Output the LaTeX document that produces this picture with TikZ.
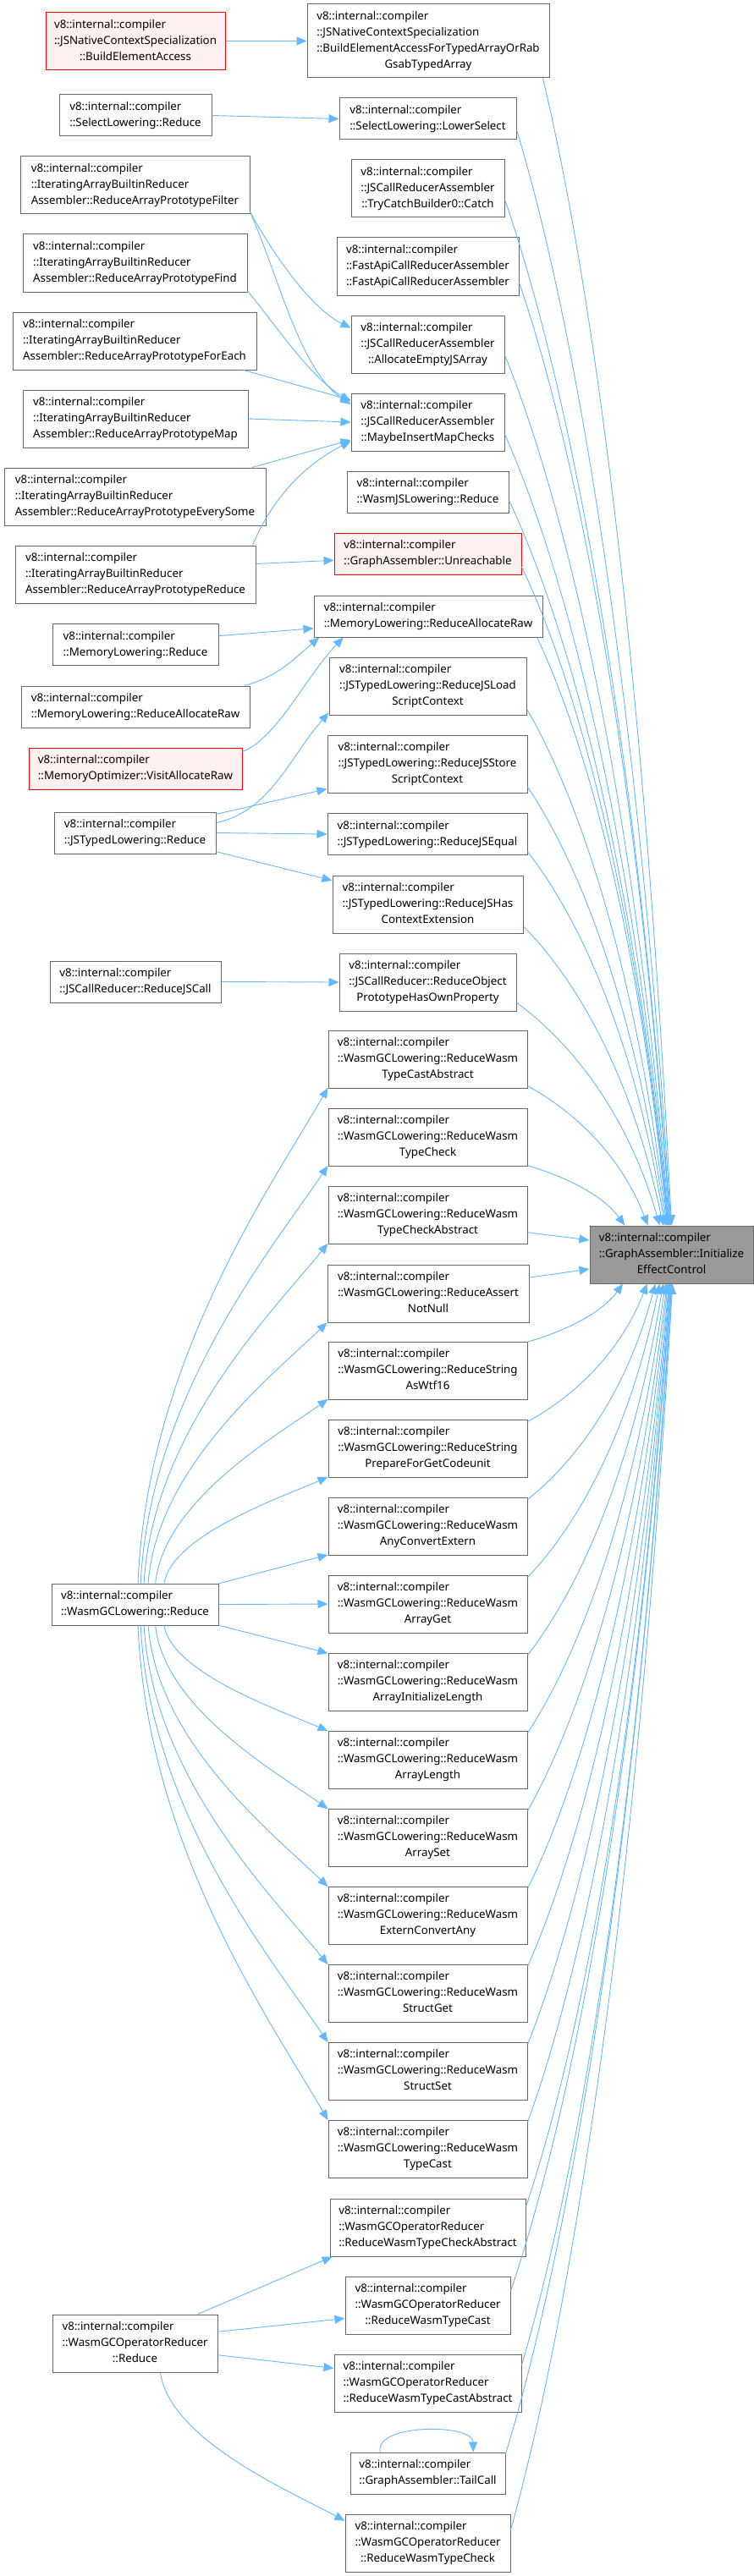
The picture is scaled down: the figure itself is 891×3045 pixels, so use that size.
\documentclass[tikz,border=0pt]{standalone}
\usepackage{fontspec}
\setmainfont{Noto Sans}
\usetikzlibrary{arrows.meta,calc}
\definecolor{edgeblue}{HTML}{63B8FF}
\definecolor{boxline}{HTML}{666666}
\definecolor{hotline}{HTML}{FF0000}
\definecolor{hotfill}{HTML}{FFF0F0}
\definecolor{rootfill}{HTML}{999999}
\newcommand{\fnlabel}[2]{\begin{tabular}{@{}l@{}}#1\\\multicolumn{1}{@{}c@{}}{#2}\end{tabular}}
\tikzset{
  fn/.style={draw=boxline, fill=white, line width=1pt, inner sep=0pt,
    font=\fontsize{13.3pt}{19pt}\selectfont},
  hot/.style={fn, draw=hotline, fill=hotfill},
  root/.style={fn, fill=rootfill},
  two/.style={minimum height=49pt},
  three/.style={minimum height=68pt},
  four/.style={minimum height=87pt},
  call/.style={draw=edgeblue, line width=0.9pt, -{Triangle[length=12pt,width=10pt]}},
  drop/.style={to path={let \p1=(\tikztostart), \p2=(\tikztotarget) in
    .. controls ({\x1+0.3*(\x2-\x1)},{\y1+0.14*(\y2-\y1)})
    and ({\x2-0.25*(\x2-\x1)},{\y2-0.56*(\y2-\y1)}) .. (\tikztotarget)}},
  fan/.style={to path={let \p1=(\tikztostart), \p2=(\tikztotarget) in
    .. controls ({\x1+0.05*(\x2-\x1)},{\y1+0.45*(\y2-\y1)})
    and ({\x2-0.3*(\x2-\x1)},{\y2-0.2*(\y2-\y1)}) .. (\tikztotarget)}},
}

\begin{document}
\begin{tikzpicture}[x=1pt,y=-1pt]
        \useasboundingbox (0,0) rectangle (891,3045);

        \node[hot,three,minimum width=212pt] (bea) at (160,48.5) {\fnlabel{v8::internal::compiler\\::JSNativeContextSpecialization}{::BuildElementAccess}};
        \node[fn,four,minimum width=286pt] (bet) at (506,48.5) {\fnlabel{v8::internal::compiler\\::JSNativeContextSpecialization\\::BuildElementAccessForTypedArrayOrRab}{GsabTypedArray}};
        \node[fn,two,minimum width=180pt] (slr) at (160,136.5) {\fnlabel{v8::internal::compiler}{::SelectLowering::Reduce}};
        \node[fn,two,minimum width=209pt] (sls) at (505.5,140.5) {\fnlabel{v8::internal::compiler}{::SelectLowering::LowerSelect}};
        \node[fn,three,minimum width=271pt] (filt) at (159.5,219) {\fnlabel{v8::internal::compiler\\::IteratingArrayBuiltinReducer}{Assembler::ReduceArrayPrototypeFilter}};
        \node[fn,three,minimum width=181pt] (catch) at (505.5,223) {\fnlabel{v8::internal::compiler\\::JSCallReducerAssembler}{::TryCatchBuilder0::Catch}};
        \node[fn,three,minimum width=265pt] (find) at (159.5,311) {\fnlabel{v8::internal::compiler\\::IteratingArrayBuiltinReducer}{Assembler::ReduceArrayPrototypeFind}};
        \node[fn,three,minimum width=215pt] (fapi) at (505.5,315) {\fnlabel{v8::internal::compiler\\::FastApiCallReducerAssembler}{::FastApiCallReducerAssembler}};
        \node[fn,three,minimum width=288pt] (fore) at (159,403) {\fnlabel{v8::internal::compiler\\::IteratingArrayBuiltinReducer}{Assembler::ReduceArrayPrototypeForEach}};
        \node[fn,three,minimum width=181pt] (aej) at (505.5,407) {\fnlabel{v8::internal::compiler\\::JSCallReducerAssembler}{::AllocateEmptyJSArray}};
        \node[fn,three,minimum width=181pt] (mimc) at (505.5,499) {\fnlabel{v8::internal::compiler\\::JSCallReducerAssembler}{::MaybeInsertMapChecks}};
        \node[fn,three,minimum width=266pt] (amap) at (160,495) {\fnlabel{v8::internal::compiler\\::IteratingArrayBuiltinReducer}{Assembler::ReduceArrayPrototypeMap}};
        \node[fn,two,minimum width=191pt] (wjs) at (505.5,581.5) {\fnlabel{v8::internal::compiler}{::WasmJSLowering::Reduce}};
        \node[fn,three,minimum width=309pt] (every) at (159.5,587) {\fnlabel{v8::internal::compiler\\::IteratingArrayBuiltinReducer}{Assembler::ReduceArrayPrototypeEverySome}};
        \node[hot,two,minimum width=221pt] (unr) at (505.5,654.5) {\fnlabel{v8::internal::compiler}{::GraphAssembler::Unreachable}};
        \node[fn,three,minimum width=284pt] (redu) at (160,679) {\fnlabel{v8::internal::compiler\\::IteratingArrayBuiltinReducer}{Assembler::ReduceArrayPrototypeReduce}};
        \node[fn,two,minimum width=270pt] (mlar) at (506,728.5) {\fnlabel{v8::internal::compiler}{::MemoryLowering::ReduceAllocateRaw}};
        \node[fn,two,minimum width=196pt] (mlr) at (160,762) {\fnlabel{v8::internal::compiler}{::MemoryLowering::Reduce}};
        \node[fn,three,minimum width=233pt] (jsl) at (505.5,811) {\fnlabel{v8::internal::compiler\\::JSTypedLowering::ReduceJSLoad}{ScriptContext}};
        \node[fn,two,minimum width=270pt] (mlar2) at (160,835.5) {\fnlabel{v8::internal::compiler}{::MemoryLowering::ReduceAllocateRaw}};
        \node[hot,two,minimum width=252pt] (mova) at (160,908.5) {\fnlabel{v8::internal::compiler}{::MemoryOptimizer::VisitAllocateRaw}};
        \node[fn,three,minimum width=236pt] (jss) at (505,903) {\fnlabel{v8::internal::compiler\\::JSTypedLowering::ReduceJSStore}{ScriptContext}};
        \node[fn,two,minimum width=191pt] (jtr) at (159.5,984.5) {\fnlabel{v8::internal::compiler}{::JSTypedLowering::Reduce}};
        \node[fn,two,minimum width=236pt] (jse) at (505,986) {\fnlabel{v8::internal::compiler}{::JSTypedLowering::ReduceJSEqual}};
        \node[fn,three,minimum width=225pt] (jsh) at (505.5,1069) {\fnlabel{v8::internal::compiler\\::JSTypedLowering::ReduceJSHas}{ContextExtension}};
        \node[fn,two,minimum width=202pt] (jsc) at (160,1160.5) {\fnlabel{v8::internal::compiler}{::JSCallReducer::ReduceJSCall}};
        \node[fn,three,minimum width=209pt] (oph) at (505.5,1161) {\fnlabel{v8::internal::compiler\\::JSCallReducer::ReduceObject}{PrototypeHasOwnProperty}};

        \node[fn,three,minimum width=235pt] (wtca) at (505.5,1252) {\fnlabel{v8::internal::compiler\\::WasmGCLowering::ReduceWasm}{TypeCastAbstract}};
        \node[fn,three,minimum width=235pt] (wtck) at (505.5,1344) {\fnlabel{v8::internal::compiler\\::WasmGCLowering::ReduceWasm}{TypeCheck}};
        \node[fn,three,minimum width=235pt] (wtcka) at (505.5,1436) {\fnlabel{v8::internal::compiler\\::WasmGCLowering::ReduceWasm}{TypeCheckAbstract}};
        \node[fn,three,minimum width=238pt] (wann) at (506,1529) {\fnlabel{v8::internal::compiler\\::WasmGCLowering::ReduceAssert}{NotNull}};
        \node[fn,three,minimum width=235pt] (wwtf) at (505.5,1620) {\fnlabel{v8::internal::compiler\\::WasmGCLowering::ReduceString}{AsWtf16}};
        \node[fn,three,minimum width=235pt] (wprep) at (505.5,1712) {\fnlabel{v8::internal::compiler\\::WasmGCLowering::ReduceString}{PrepareForGetCodeunit}};
        \node[fn,three,minimum width=235pt] (wany) at (505.5,1804) {\fnlabel{v8::internal::compiler\\::WasmGCLowering::ReduceWasm}{AnyConvertExtern}};
        \node[fn,three,minimum width=235pt] (wget) at (505.5,1896) {\fnlabel{v8::internal::compiler\\::WasmGCLowering::ReduceWasm}{ArrayGet}};
        \node[fn,three,minimum width=235pt] (winit) at (505.5,1988) {\fnlabel{v8::internal::compiler\\::WasmGCLowering::ReduceWasm}{ArrayInitializeLength}};
        \node[fn,three,minimum width=235pt] (wlen) at (505.5,2080) {\fnlabel{v8::internal::compiler\\::WasmGCLowering::ReduceWasm}{ArrayLength}};
        \node[fn,three,minimum width=235pt] (wset) at (505.5,2172) {\fnlabel{v8::internal::compiler\\::WasmGCLowering::ReduceWasm}{ArraySet}};
        \node[fn,three,minimum width=235pt] (wext) at (505.5,2264) {\fnlabel{v8::internal::compiler\\::WasmGCLowering::ReduceWasm}{ExternConvertAny}};
        \node[fn,three,minimum width=235pt] (wsget) at (505.5,2356) {\fnlabel{v8::internal::compiler\\::WasmGCLowering::ReduceWasm}{StructGet}};
        \node[fn,three,minimum width=235pt] (wsset) at (505.5,2448) {\fnlabel{v8::internal::compiler\\::WasmGCLowering::ReduceWasm}{StructSet}};
        \node[fn,three,minimum width=235pt] (wtc) at (505.5,2540) {\fnlabel{v8::internal::compiler\\::WasmGCLowering::ReduceWasm}{TypeCast}};

        \node[root,three,minimum width=193pt] (tgt) at (793.5,1483) {\fnlabel{v8::internal::compiler\\::GraphAssembler::Initialize}{EffectControl}};
        \node[fn,two,minimum width=197pt] (wgr) at (159.5,1896.5) {\fnlabel{v8::internal::compiler}{::WasmGCLowering::Reduce}};

        \node[fn,three,minimum width=231pt] (otcka) at (505.5,2633) {\fnlabel{v8::internal::compiler\\::WasmGCOperatorReducer}{::ReduceWasmTypeCheckAbstract}};
        \node[fn,three,minimum width=195pt] (otc) at (505.5,2725) {\fnlabel{v8::internal::compiler\\::WasmGCOperatorReducer}{::ReduceWasmTypeCast}};
        \node[fn,three,minimum width=195pt] (wgor) at (159.5,2770) {\fnlabel{v8::internal::compiler\\::WasmGCOperatorReducer}{::Reduce}};
        \node[fn,three,minimum width=221pt] (otca) at (505.5,2817) {\fnlabel{v8::internal::compiler\\::WasmGCOperatorReducer}{::ReduceWasmTypeCastAbstract}};
        \node[fn,two,minimum width=183pt] (tail) at (505.5,2923.5) {\fnlabel{v8::internal::compiler}{::GraphAssembler::TailCall}};
        \node[fn,three,minimum width=195pt] (otck) at (505.5,3006) {\fnlabel{v8::internal::compiler\\::WasmGCOperatorReducer}{::ReduceWasmTypeCheck}};

        \draw[call] (bea.east) -- (bet.west);
        \draw[call] (slr.east) -- (sls.west);
        \draw[call] (filt.-13) .. controls +(30,55) and +(-45,-22) .. (aej.168);
        \draw[call] (filt.-13) .. controls +(35,80) and +(-60,-40) .. (mimc.167);
        \draw[call] (find.-14) .. controls +(30,35) and +(-50,-30) .. (mimc.165);
        \draw[call] (fore.-15) -- (mimc.164);
        \draw[call] (amap.east) -- (mimc.west);
        \draw[call] (every.14) -- (mimc.-167);
        \draw[call] (redu.14) .. controls +(25,-60) and +(-50,25) .. (mimc.-166);
        \draw[call] (redu.5) -- (unr.-176);
        \draw[call] (mlr.6) -- (mlar.-174);
        \draw[call] (mlar2.11) .. controls +(40,-11) and +(-32,27) .. (mlar.-169);
        \draw[call] (mova.9) .. controls +(40,-15) and +(-44,46) .. (mlar.-166);
        \draw[call] (jtr.7) .. controls +(65,-15) and +(-48,55) .. (jsl.-165);
        \draw[call] (jtr.13) -- (jss.-166);
        \draw[call] (jtr.east) -- (jse.west);
        \draw[call] (jtr.-13) -- (jsh.166);
        \draw[call] (jsc.east) -- (oph.west);

        \draw[call] (wgr.82) to[fan] (wtca.-164);
        \draw[call] (wgr.75) to[fan] (wtck.-164);
        \draw[call] (wgr.67) to[fan] (wtcka.-164);
        \draw[call] (wgr.58) to[fan] (wann.-164);
        \draw[call] (wgr.46) to[fan] (wwtf.-164);
        \draw[call] (wgr.36) to[fan] (wprep.-164);
        \draw[call] (wgr.14) -- (wany.-164);
        \draw[call] (wgr.east) -- (wget.west);
        \draw[call] (wgr.-14) -- (winit.164);
        \draw[call] (wgr.-36) to[fan] (wlen.164);
        \draw[call] (wgr.-46) to[fan] (wset.164);
        \draw[call] (wgr.-58) to[fan] (wext.164);
        \draw[call] (wgr.-67) to[fan] (wsget.164);
        \draw[call] (wgr.-75) to[fan] (wsset.164);
        \draw[call] (wgr.-82) to[fan] (wtc.164);

        \draw[call] (wgor.25) -- (otcka.-163);
        \draw[call] (wgor.8) -- (otc.-171);
        \draw[call] (wgor.-8) -- (otca.171);
        \draw[call] (wgor.-49) to[fan] (otck.165);
        \draw[call] (tail.156) .. controls +(-8,-34) and +(0,-34) .. (tail.25);

        \draw[call] (bet.-18) to[drop] (tgt.90);
        \draw[call] (sls.-7) to[drop] (tgt.91);
        \draw[call] (catch.-8) to[drop] (tgt.92);
        \draw[call] (fapi.-10) to[drop] (tgt.93);
        \draw[call] (aej.-8) to[drop] (tgt.94);
        \draw[call] (mimc.-9) to[drop] (tgt.95);
        \draw[call] (wjs.-6) to[drop] (tgt.96);
        \draw[call] (unr.-8) to[drop] (tgt.97);
        \draw[call] (mlar.-11) to[drop] (tgt.98);
        \draw[call] (jsl.-13) to[drop] (tgt.99);
        \draw[call] (jss.-13) to[drop] (tgt.101);
        \draw[call] (jse.-10) to[drop] (tgt.103);
        \draw[call] (jsh.-13) to[drop] (tgt.106);
        \draw[call] (oph.-13) to[drop] (tgt.112);
        \draw[call] (wtca.-15) to[drop] (tgt.129);
        \draw[call] (wtck.-16) to[drop] (tgt.148);
        \draw[call] (wtcka.-10) -- (tgt.170);
        \draw[call] (wann.9) -- (tgt.-170);
        \draw[call] (wwtf.16) to[drop] (tgt.-149);
        \draw[call] (wprep.15) to[drop] (tgt.-130);
        \draw[call] (wany.15) to[drop] (tgt.-119);
        \draw[call] (wget.15) to[drop] (tgt.-112);
        \draw[call] (winit.15) to[drop] (tgt.-106);
        \draw[call] (wlen.15) to[drop] (tgt.-102);
        \draw[call] (wset.15) to[drop] (tgt.-99);
        \draw[call] (wext.15) to[drop] (tgt.-97);
        \draw[call] (wsget.15) to[drop] (tgt.-95);
        \draw[call] (wsset.15) to[drop] (tgt.-94);
        \draw[call] (wtc.15) to[drop] (tgt.-93);
        \draw[call] (otcka.12) to[drop] (tgt.-92);
        \draw[call] (otc.10) to[drop] (tgt.-91);
        \draw[call] (otca.11) to[drop] (tgt.-90);
        \draw[call] (tail.14) to[drop] (tgt.-89);
        \draw[call] (otck.9) to[drop] (tgt.-88);
\end{tikzpicture}
\end{document}
